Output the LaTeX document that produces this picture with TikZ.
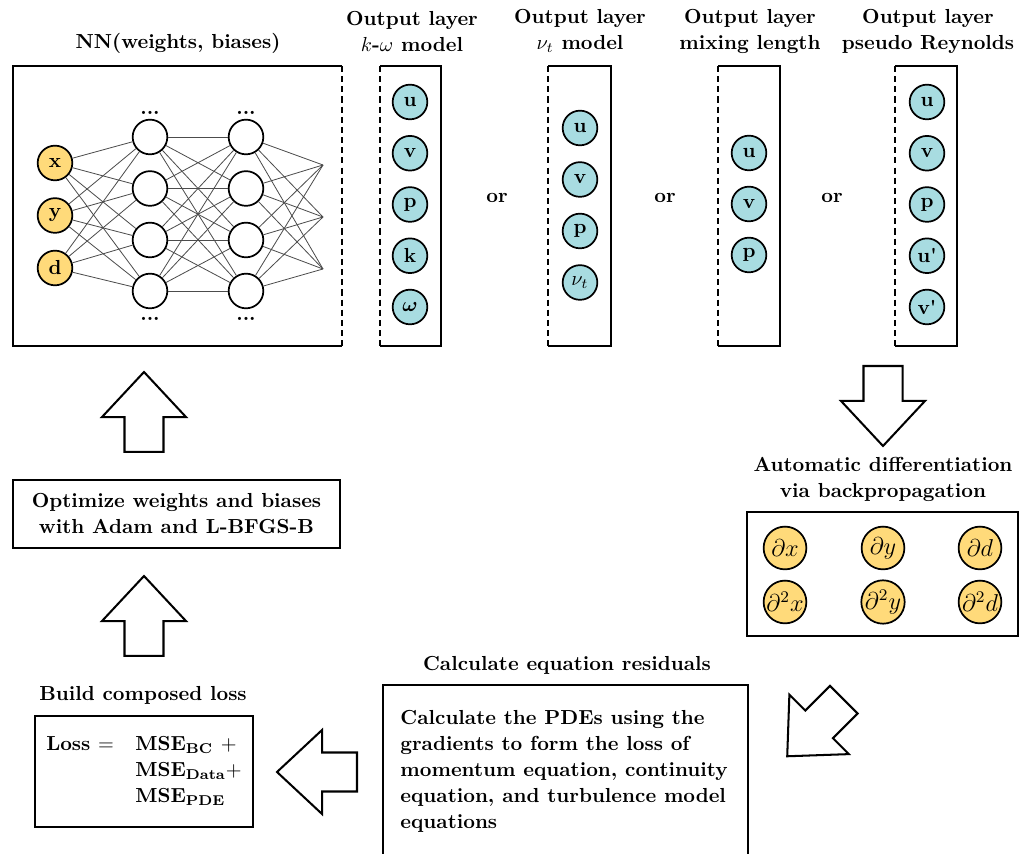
\documentclass[tikz,border=0pt]{standalone}
\usepackage{amsmath,amssymb,bm}
\usepackage{tikz}
\usetikzlibrary{shapes.arrows}
\usetikzlibrary{positioning}
\definecolor{inyellow}{RGB}{255,218,122}
\definecolor{outcyan}{RGB}{168,220,225}

\tikzset{
	neuron/.style={circle, draw=black, line width=0.85pt, minimum size=0.6cm, inner sep=0pt, font=\bfseries},
	inneuron/.style={neuron, fill=inyellow},
	outneuron/.style={neuron, fill=outcyan},
	hidneuron/.style={neuron, fill=white},
	gradneuron/.style={circle, draw=black, line width=0.85pt, fill=inyellow, minimum size=0.74cm, inner sep=0pt, font=\large},
	flowline/.style={black, line width=1pt},
	headtext/.style={font=\bfseries\fontsize{10}{12.8}\selectfont, align=center, inner sep=0pt},
	flowbox/.style={draw=black, line width=1pt, font=\bfseries\fontsize{10}{12.8}\selectfont, align=center, inner sep=0pt},
	blockarrow/.style={single arrow, draw=black, line width=1pt, fill=white, minimum height=1.384cm, inner xsep=0pt, inner ysep=0.32cm, single arrow head extend=0.39cm, single arrow tip angle=86, anchor=tail},
	synapse/.style={black!70, line width=0.4pt}
}

\begin{document}
\begin{tikzpicture}[x=0.0173cm, y=-0.0173cm]
	\useasboundingbox (0,0) rectangle (1030,854);

	\draw[flowline] (342,66) -- (13,66) -- (13,346) -- (342,346);
	\draw[flowline, densely dashed] (342,66) -- (342,346);
	\node[headtext] (nntitle) at (178,43) {NN(weights, biases)};

	\foreach \name/\y in {x/163, y/215.5, d/268}
		\node[inneuron] (in-\name) at (55,\y) {\name};
	\foreach \i/\y in {1/137, 2/188.5, 3/240, 4/291}{
		\node[hidneuron] (ha-\i) at (150,\y) {};
		\node[hidneuron] (hb-\i) at (246,\y) {};
	}
	\foreach \i/\y in {1/165, 2/217, 3/269}
		\coordinate (hc-\i) at (323,\y);
	\foreach \a in {x,y,d}
		\foreach \b in {1,...,4}
			\draw[synapse] (in-\a) -- (ha-\b);
	\foreach \a in {1,...,4}{
		\foreach \b in {1,...,4}
			\draw[synapse] (ha-\a) -- (hb-\b);
		\foreach \b in {1,...,3}
			\draw[synapse] (hb-\a) -- (hc-\b);
	}
	\node[headtext, anchor=base] (dotsa-top) at (150,115) {...};
	\node[headtext, anchor=base] (dotsb-top) at (246,115) {...};
	\node[headtext, anchor=base] (dotsa-bot) at (150,321) {...};
	\node[headtext, anchor=base] (dotsb-bot) at (246,321) {...};

	\draw[flowline] (380,66) -- (441,66) -- (441,346) -- (380,346);
	\draw[flowline, densely dashed] (380,66) -- (380,346);
	\node[headtext] (kwtitle) at (412,31) {Output layer\\$k$-$\omega$ model};
	\foreach \lab [count=\i] in {u, v, p, k, $\boldsymbol{\omega}$}
		\node[outneuron] (kw-\i) at (410,{102+51.25*(\i-1)}) {\lab};
	\node[headtext] (or-1) at (497,198) {or};

	\draw[flowline] (548,66) -- (611,66) -- (611,346) -- (548,346);
	\draw[flowline, densely dashed] (548,66) -- (548,346);
	\node[headtext] (nutitle) at (580,31) {Output layer\\$\nu_t$ model};
	\foreach \lab [count=\i] in {u, v, p, $\nu_t$}
		\node[outneuron] (nu-\i) at (580,{128+51.5*(\i-1)}) {\lab};
	\node[headtext] (or-2) at (665,198) {or};

	\draw[flowline] (718,66) -- (780,66) -- (780,346) -- (718,346);
	\draw[flowline, densely dashed] (718,66) -- (718,346);
	\node[headtext] (mltitle) at (750,31) {Output layer\\mixing length};
	\foreach \lab [count=\i] in {u, v, p}
		\node[outneuron] (ml-\i) at (749,{153+51*(\i-1)}) {\lab};
	\node[headtext] (or-3) at (832,198) {or};

	\draw[flowline] (895,66) -- (957,66) -- (957,346) -- (895,346);
	\draw[flowline, densely dashed] (895,66) -- (895,346);
	\node[headtext] (prtitle) at (928,31) {Output layer\\pseudo Reynolds};
	\foreach \lab [count=\i] in {u, v, p, u\textquotesingle, v\textquotesingle}
		\node[outneuron] (pr-\i) at (927,{102+51.25*(\i-1)}) {\lab};

	\node[blockarrow, rotate=-90] (arrowad) at (883,365) {};
	\node[headtext] (adtitle) at (883,479) {Automatic differentiation\\via backpropagation};
	\node[flowbox, minimum width=4.69cm, minimum height=2.15cm] (adbox) at (882.5,574) {};
	\foreach \var/\x in {x/785, y/883, d/980}{
		\node[gradneuron] (da-\var) at (\x,548) {$\partial \var$};
		\node[gradneuron] (db-\var) at (\x,602) {$\partial^2 \var$};
	}

	\node[blockarrow, rotate=225] (arrowpde) at (844.5,699) {};
	\node[headtext] (pdetitle) at (567,665) {Calculate equation residuals};
	\draw[flowline] (383,856) -- (383,685) -- (748,685) -- (748,856);
	\node[headtext, align=left, anchor=north west] (pdetext) at (400,710) {Calculate the PDEs using the\\gradients to form the loss of\\momentum equation, continuity\\equation, and turbulence model\\equations};

	\node[blockarrow, rotate=180] (arrowres) at (358,772) {};
	\node[headtext] (losstitle) at (143,695) {Build composed loss};
	\node[flowbox, minimum width=3.77cm, minimum height=1.92cm] (lossbox) at (144,771.5) {\begin{tabular}{@{}l@{\hspace{10.5pt}}l@{}}Loss $=$ & MSE$_{\textbf{BC}}$ $+$\\ & MSE$_{\textbf{Data}}$$+$\\ & MSE$_{\textbf{PDE}}$\end{tabular}};

	\node[blockarrow, rotate=90] (arrowloss) at (144,657) {};
	\node[flowbox, minimum width=5.66cm, minimum height=1.18cm] (optbox) at (176.5,514) {Optimize weights and biases\\with Adam and L-BFGS-B};
	\node[blockarrow, rotate=90] (arrowopt) at (144,453) {};
\end{tikzpicture}
\end{document}
